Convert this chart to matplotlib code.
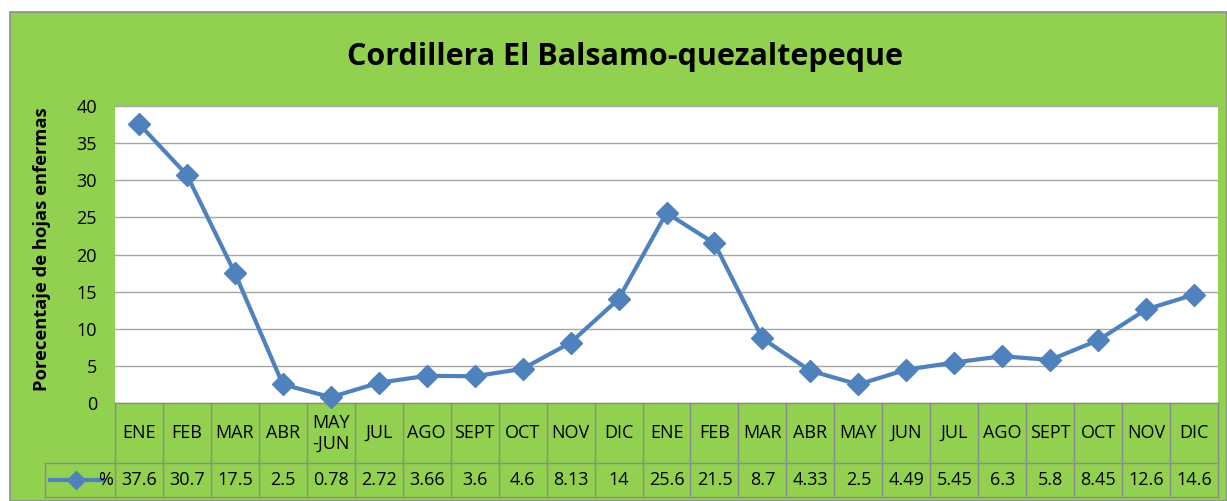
import matplotlib
matplotlib.use('Agg')
import matplotlib.pyplot as plt
from matplotlib.patches import Rectangle

# data
meses = ['ENE', 'FEB', 'MAR', 'ABR', 'MAY\n-JUN', 'JUL', 'AGO', 'SEPT', 'OCT', 'NOV', 'DIC',
         'ENE', 'FEB', 'MAR', 'ABR', 'MAY', 'JUN', 'JUL', 'AGO', 'SEPT', 'OCT', 'NOV', 'DIC']
porcentaje = [37.6, 30.7, 17.5, 2.5, 0.78, 2.72, 3.66, 3.6, 4.6, 8.13, 14,
              25.6, 21.5, 8.7, 4.33, 2.5, 4.49, 5.45, 6.3, 5.8, 8.45, 12.6, 14.6]
etiquetas = ['37.6', '30.7', '17.5', '2.5', '0.78', '2.72', '3.66', '3.6', '4.6', '8.13', '14',
             '25.6', '21.5', '8.7', '4.33', '2.5', '4.49', '5.45', '6.3', '5.8', '8.45', '12.6', '14.6']
serie = '%'
titulo = 'Cordillera El Balsamo-quezaltepeque'
ylabel = 'Porecentaje de hojas enfermas'

verde = '#92D050'
azul = '#4F81BD'
gris = '#8C8C8C'
W, H = 1227, 501

plt.rcParams['font.family'] = ['Open Sans', 'DejaVu Sans']

fig = plt.figure(figsize=(W/100, H/100), dpi=100)
fig.patch.set_facecolor('white')
# green chart area with border, on a background axes
bg = fig.add_axes([0, 0, 1, 1], zorder=-10)
bg.set_xlim(0, W)
bg.set_ylim(H, 0)
bg.axis('off')
bg.add_patch(Rectangle((10, 12), W - 10, H - 12, facecolor=verde, edgecolor=gris, lw=1.2))

# plot area in pixels
left, right, top, bottom = 115, 1218, 106, 403
ax = fig.add_axes([left/W, 1 - bottom/H, (right-left)/W, (bottom-top)/H])
ax.set_facecolor('white')
n = len(meses)
x = list(range(n))
ax.set_xlim(-0.5, n - 0.5)
ax.set_ylim(0, 40)
ax.set_yticks(range(0, 41, 5))
ax.yaxis.grid(True, color='#A6A6A6', lw=1)
ax.set_axisbelow(True)
ax.set_xticks([])
ax.tick_params(axis='y', length=0, labelsize=13, pad=13)
for s in ['left', 'right', 'bottom']:
    ax.spines[s].set_visible(False)
ax.spines['top'].set_color('#A6A6A6')

ax.plot(x, porcentaje, color=azul, lw=3, marker='D', markersize=11, zorder=3, clip_on=False)

# data table below the plot area
px = (bottom - top)  # axes height in px
y_head = -(463 - bottom) / px
y_val = -(497 - bottom) / px
trans = ax.get_xaxis_transform()
for k in range(n + 1):
    ax.plot([k - 0.5, k - 0.5], [0, y_val], color=gris, lw=1, transform=trans, clip_on=False)
ax.plot([-0.5, n - 0.5], [0, 0], color=gris, lw=1, transform=trans, clip_on=False)
x_leg = -0.5 - (left - 45) / ((right - left) / n)
ax.plot([x_leg, n - 0.5], [y_head, y_head], color=gris, lw=1, transform=trans, clip_on=False)
ax.plot([x_leg, n - 0.5], [y_val, y_val], color=gris, lw=1, transform=trans, clip_on=False)
ax.plot([x_leg, x_leg], [y_head, y_val], color=gris, lw=1, transform=trans, clip_on=False)

for k in range(n):
    ax.text(k, y_head / 2, meses[k], transform=trans, ha='center', va='center', fontsize=13,
            linespacing=1.2)
    ax.text(k, (y_head + y_val) / 2, etiquetas[k], transform=trans, ha='center', va='center',
            fontsize=13)

# legend key in table
ym = (y_head + y_val) / 2
ax.plot([x_leg + 0.1, -0.75], [ym, ym], color=azul, lw=3, transform=trans, clip_on=False)
ax.plot([(x_leg + 0.1 - 0.75) / 2], [ym], color=azul, marker='D', markersize=9,
        transform=trans, clip_on=False)
ax.text(-0.55, ym, serie, transform=trans, ha='right', va='center', fontsize=13)

fig.text(625/W, 1 - 57/H, titulo, ha='center', va='center', fontsize=22, fontweight='bold')
fig.text(42/W, 1 - 249/H, ylabel, ha='center', va='center', rotation=90, fontsize=13.2,
         fontweight='bold')

fig.savefig('out.png', dpi=100, facecolor=fig.get_facecolor())
